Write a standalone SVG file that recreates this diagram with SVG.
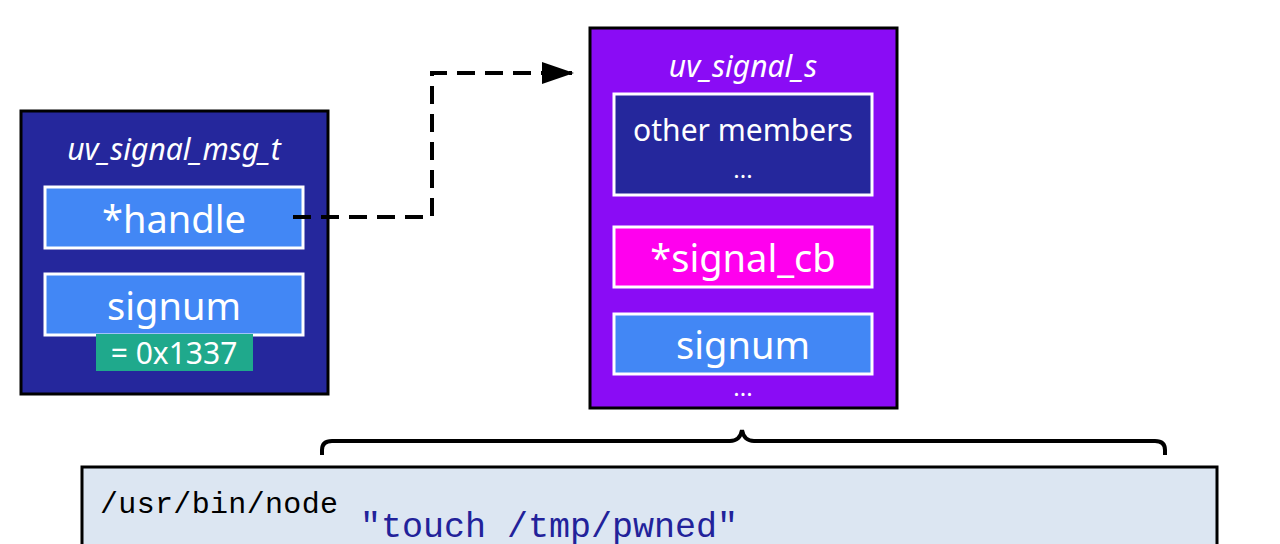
<svg xmlns="http://www.w3.org/2000/svg" width="1280" height="544" viewBox="0 0 1280 544">
<style>
.t{font-family:"Noto Sans","Liberation Sans",sans-serif;fill:#fff;text-anchor:middle}
.i{font-style:italic;font-size:30px}
.f{stroke:#fff;stroke-width:3}
.m{font-family:"Liberation Mono","DejaVu Sans Mono",monospace}
</style>
<defs><marker id="ah" markerWidth="32" markerHeight="24" refX="30" refY="12" orient="auto" markerUnits="userSpaceOnUse" viewBox="0 0 32 24"><path d="M0,1L32,12L0,23z" fill="#000"/></marker></defs>
<rect width="1280" height="544" fill="#fff"/>
<g id="msg">
<rect x="21" y="111" width="307" height="283" fill="#25279c" stroke="#000" stroke-width="3"/>
<text class="t i" x="174" y="160">uv_signal_msg_t</text>
<rect class="f" x="45" y="187" width="258" height="61" fill="#4287f5"/>
<text class="t" x="174" y="233" font-size="38">*handle</text>
<rect class="f" x="45" y="274" width="258" height="61" fill="#4287f5"/>
<text class="t" x="174" y="320" font-size="38">signum</text>
<rect x="96" y="334" width="157" height="37" fill="#1fa98c"/>
<text class="t" x="174" y="364" font-size="30">= 0x1337</text>
</g>
<g id="sig">
<rect x="590" y="28" width="307" height="380" fill="#8a0cf5" stroke="#000" stroke-width="3"/>
<text class="t i" x="743" y="77">uv_signal_s</text>
<rect class="f" x="614" y="94" width="258" height="101" fill="#25279c"/>
<text class="t" x="743" y="141" font-size="30">other members</text>
<text class="t" x="743" y="178" font-size="24">...</text>
<rect class="f" x="614" y="227" width="258" height="60" fill="#ff00ee"/>
<text class="t" x="743" y="272" font-size="38">*signal_cb</text>
<rect class="f" x="614" y="314" width="258" height="60" fill="#4287f5"/>
<text class="t" x="743" y="359" font-size="38">signum</text>
<text class="t" x="743" y="396" font-size="24">...</text>
</g>
<g id="connectors">
<path d="M293,217H432V73H572" fill="none" stroke="#000" stroke-width="4" stroke-dasharray="18,10" marker-end="url(#ah)"/>
<path d="M322,455V450Q322,441 332,441H730Q740,441 742,430Q744,441 754,441H1155Q1165,441 1165,450V455" fill="none" stroke="#000" stroke-width="4"/>
</g>
<g id="cmd">
<rect x="82" y="467" width="1135" height="90" fill="#dce6f2" stroke="#000" stroke-width="3"/>
<text class="m" x="100" y="513" font-size="30" fill="#000" textLength="238">/usr/bin/node</text>
<text class="m" x="360" y="537" font-size="35" fill="#22229a" textLength="378">"touch /tmp/pwned"</text>
</g>
</svg>
